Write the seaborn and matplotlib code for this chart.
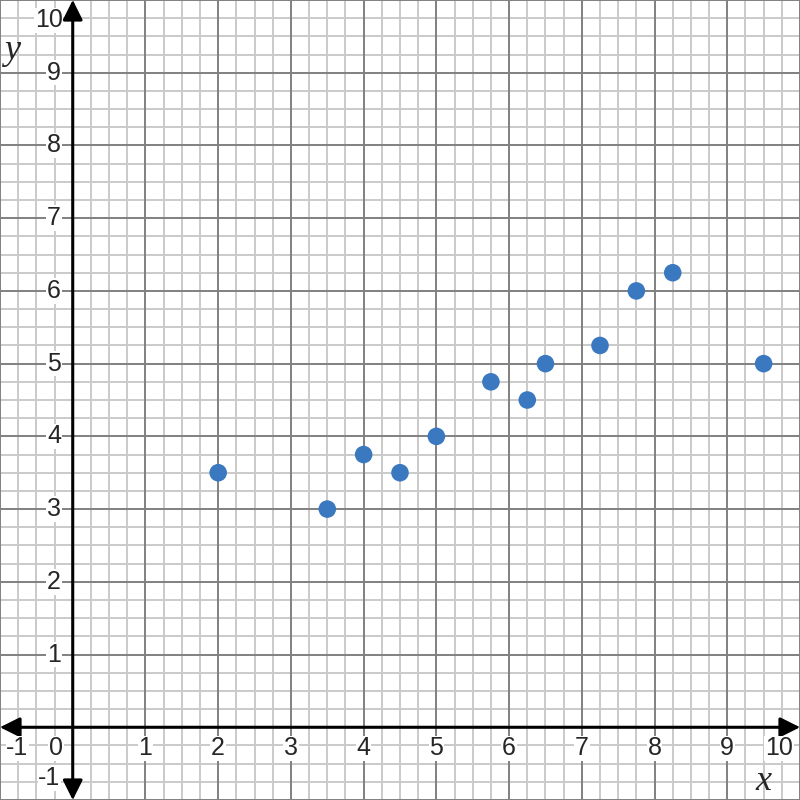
import matplotlib
matplotlib.use("Agg")
import matplotlib.pyplot as plt
import seaborn as sns
import pandas as pd
import numpy as np

# ─── Data ────────────────────────────────────────────────────────────────────
x_vals = [2, 3.5, 4, 4.5, 5, 5.75, 6.25, 6.5, 7.25, 7.75, 8.25, 9.5]
y_vals = [3.5, 3, 3.75, 3.5, 4, 4.75, 4.5, 5, 5.25, 6, 6.25, 5]
x_ticks = [-1, 1, 2, 3, 4, 5, 6, 7, 8, 9, 10]
y_ticks = [-1, 1, 2, 3, 4, 5, 6, 7, 8, 9, 10]

df = pd.DataFrame({"x": x_vals, "y": y_vals})

sns.set_style("white")
plt.rcParams["font.family"] = ["Liberation Sans", "DejaVu Sans"]

fig = plt.figure(figsize=(8, 8), dpi=100)
ax = fig.add_axes([0, 0, 1, 1])
ax.set_xlim(-1, 10)
ax.set_ylim(-1, 10)

# grid: minor every 0.25, major every 1
minor = np.arange(-1, 10.01, 0.25)
for v in minor:
    major = abs(v - round(v)) < 1e-9
    c, lw = ("#808080", 1.4) if major else ("#cacaca", 1.4)
    ax.axvline(v, color=c, lw=lw, zorder=1 if major else 0)
    ax.axhline(v, color=c, lw=lw, zorder=1 if major else 0)

for s in ax.spines.values():
    s.set_visible(False)
ax.set_xticks([])
ax.set_yticks([])

# axes with arrows
arrow = dict(arrowstyle="<|-|>", color="black", lw=2.2, mutation_scale=30,
             shrinkA=0, shrinkB=0)
ax.annotate("", xy=(-1.0, 0), xytext=(10.0, 0), arrowprops=arrow, zorder=3)
ax.annotate("", xy=(0, -1.0), xytext=(0, 10.0), arrowprops=arrow, zorder=3)

sns.scatterplot(data=df, x="x", y="y", ax=ax, s=160, color="#3a78bf",
                edgecolor="none", zorder=4, legend=False)
ax.set_xlabel("")
ax.set_ylabel("")

fs = 18
box = dict(facecolor="white", edgecolor="none", pad=0.5)
for t in x_ticks:
    xp = t
    if t == -1:
        xp = -0.76
    elif t == 10:
        xp = 9.71
    ax.text(xp, -0.29, str(t), ha="center", va="center", fontsize=fs, bbox=box, zorder=5)
for t in y_ticks:
    if t == -1:
        ax.text(-0.32, -0.70, "-1", ha="center", va="center", fontsize=fs, bbox=box, zorder=5)
    elif t == 10:
        ax.text(-0.14, 9.72, "10", ha="right", va="center", fontsize=fs, bbox=box, zorder=5)
    else:
        ax.text(-0.16, t, str(t), ha="right", va="center", fontsize=fs, bbox=box, zorder=5)
ax.text(-0.23, -0.29, "0", ha="center", va="center", fontsize=fs, bbox=box, zorder=5)

ax.text(-0.83, 9.31, "y", fontsize=26, style="italic", family="Liberation Serif",
        ha="center", va="center", zorder=5)
ax.text(9.5, -0.75, "x", fontsize=26, style="italic", family="Liberation Serif",
        ha="center", va="center", zorder=5)

fig.savefig("out.png", dpi=100)
